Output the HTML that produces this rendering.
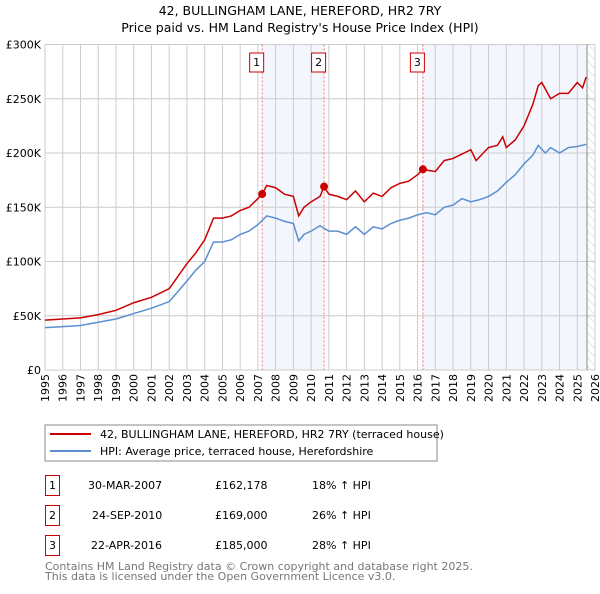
<!DOCTYPE html>
<html><head><meta charset="utf-8"><style>
body{margin:0;background:#fff;font-family:"DejaVu Sans","Liberation Sans",sans-serif;}
svg text{font-family:"DejaVu Sans","Liberation Sans",sans-serif;}
</style></head><body>
<svg id="c" width="600" height="590" xmlns="http://www.w3.org/2000/svg">
<defs><pattern id="hatch" width="6" height="6" patternUnits="userSpaceOnUse" patternTransform="rotate(-45)"><line x1="0" y1="0" x2="0" y2="6" stroke="#ccc" stroke-width="1"/></pattern></defs>
<text x="300" y="15" text-anchor="middle" font-size="12.5">42, BULLINGHAM LANE, HEREFORD, HR2 7RY</text>
<text x="300" y="32" text-anchor="middle" font-size="12.5">Price paid vs. HM Land Registry's House Price Index (HPI)</text>
<g id="plot"></g>
<rect x="45" y="425" width="392" height="36" fill="#fff" stroke="#888"/>
<line x1="50" y1="434" x2="91" y2="434" stroke="#cc0000" stroke-width="2"/>
<text x="100" y="438" font-size="11">42, BULLINGHAM LANE, HEREFORD, HR2 7RY (terraced house)</text>
<line x1="50" y1="451" x2="91" y2="451" stroke="#5b8fd0" stroke-width="2"/>
<text x="100" y="455" font-size="11">HPI: Average price, terraced house, Herefordshire</text>
<g font-size="11">
<rect x="45.5" y="475.5" width="14" height="20" fill="#fff" stroke="#cc0000"/><text x="52.5" y="489" text-anchor="middle">1</text>
<text x="88" y="489">30-MAR-2007</text><text x="215" y="489">£162,178</text><text x="312" y="489">18% ↑ HPI</text>
<rect x="45.5" y="505.5" width="14" height="20" fill="#fff" stroke="#cc0000"/><text x="52.5" y="519" text-anchor="middle">2</text>
<text x="92" y="519">24-SEP-2010</text><text x="215" y="519">£169,000</text><text x="312" y="519">26% ↑ HPI</text>
<rect x="45.5" y="535.5" width="14" height="20" fill="#fff" stroke="#cc0000"/><text x="52.5" y="549" text-anchor="middle">3</text>
<text x="91" y="549">22-APR-2016</text><text x="215" y="549">£185,000</text><text x="312" y="549">28% ↑ HPI</text>
</g>
<text x="45" y="570" font-size="11" fill="#777">Contains HM Land Registry data © Crown copyright and database right 2025.</text>
<text x="45" y="580" font-size="11" fill="#777">This data is licensed under the Open Government Licence v3.0.</text>
</svg>
<script>
const redX=[1995,1996,1997,1998,1999,2000,2001,2002,2003,2003.5,2004,2004.5,2005,2005.5,2006,2006.5,2007,2007.24,2007.5,2008,2008.5,2009,2009.3,2009.6,2010,2010.5,2010.73,2011,2011.5,2012,2012.5,2013,2013.5,2014,2014.5,2015,2015.5,2016,2016.3,2016.6,2017,2017.5,2018,2018.5,2019,2019.3,2019.7,2020,2020.5,2020.8,2021,2021.5,2022,2022.5,2022.8,2023,2023.5,2024,2024.5,2025,2025.3,2025.5];
const redV=[46,47,48,51,55,62,67,75,98,108,120,140,140,142,147,150,158,162.2,170,168,162,160,142,150,155,160,169,162,160,157,165,155,163,160,168,172,174,180,185,184,183,193,195,199,203,193,200,205,207,215,205,212,225,245,262,265,250,255,255,265,260,270];
const hpiX=[1995,1996,1997,1998,1999,2000,2001,2002,2003,2003.5,2004,2004.5,2005,2005.5,2006,2006.5,2007,2007.5,2008,2008.5,2009,2009.3,2009.6,2010,2010.5,2011,2011.5,2012,2012.5,2013,2013.5,2014,2014.5,2015,2015.5,2016,2016.5,2017,2017.5,2018,2018.5,2019,2019.5,2020,2020.5,2021,2021.5,2022,2022.5,2022.8,2023.2,2023.5,2024,2024.5,2025,2025.5];
const hpiV=[39,40,41,44,47,52,57,63,82,92,100,118,118,120,125,128,134,142,140,137,135,119,125,128,133,128,128,125,132,125,132,130,135,138,140,143,145,143,150,152,158,155,157,160,165,173,180,190,198,207,200,205,200,205,206,208];
const saleX=[2007.24,2010.73,2016.3];
const saleV=[162.178,169,185];
const saleLabels=["1","2","3"];
const yTicks=[0,50,100,150,200,250,300];
const yTickLabels=["£0","£50K","£100K","£150K","£200K","£250K","£300K"];
const xStart=1995,xEnd=2026,dataEnd=2025.55;
const X0=45,X1=595,Y0=370,Y1=44.5;
const sx=v=>X0+(v-xStart)/(xEnd-xStart)*(X1-X0);
const sy=v=>Y0-v/300*(Y0-Y1);
const NS="http://www.w3.org/2000/svg";
const g=document.getElementById('plot');
function mk(t,a,p){const e=document.createElementNS(NS,t);for(const k in a)e.setAttribute(k,a[k]);(p||g).appendChild(e);return e;}
let e;
e=mk('rect',{x:sx(saleX[0]),y:Y1,width:sx(saleX[1])-sx(saleX[0]),height:Y0-Y1,fill:'#f3f6fd'});


e=mk('rect',{x:sx(saleX[2]),y:Y1,width:sx(dataEnd)-sx(saleX[2]),height:Y0-Y1,fill:'#f3f6fd'});


e=mk('rect',{x:sx(dataEnd),y:Y1,width:X1-sx(dataEnd),height:Y0-Y1,fill:'url(#hatch)'});


for(let yv=xStart;yv<=xEnd;yv++){
 e=mk('line',{x1:sx(yv),x2:sx(yv),y1:Y1,y2:Y0,stroke:'#ccc','stroke-width':1});
 
 
 const tx=sx(yv)+4;
 e=mk('text',{x:0,y:0,transform:`translate(${tx},${Y0+4}) rotate(-90)`,'text-anchor':'end','font-size':11});
 e.textContent=yv;
 
 
}
yTicks.forEach((t,i)=>{
 e=mk('line',{x1:X0,x2:X1,y1:sy(t),y2:sy(t),stroke:'#ccc','stroke-width':1});
 
 
 e=mk('text',{x:X0-4,y:sy(t)+4,'text-anchor':'end','font-size':11});
 e.textContent=yTickLabels[i];
 
 
});
e=mk('line',{x1:sx(dataEnd),x2:sx(dataEnd),y1:Y1,y2:Y0,stroke:'#888','stroke-width':1});


saleX.forEach((s,i)=>{
 e=mk('line',{x1:sx(s),x2:sx(s),y1:Y1,y2:Y0,stroke:'#f07070','stroke-width':1,'stroke-dasharray':'2,2'});
 
 
 e=mk('rect',{x:sx(s)-12.5,y:53,width:14,height:19,fill:'#fff',stroke:'#cc0000'});
 
 
 e=mk('text',{x:sx(s)-5.5,y:66,'text-anchor':'middle','font-size':11});
 e.textContent=saleLabels[i];
 
 
});
e=mk('polyline',{points:hpiX.map((x,i)=>sx(x)+','+sy(hpiV[i])).join(' '),fill:'none',stroke:'#5b8fd0','stroke-width':1.5});


e=mk('polyline',{points:redX.map((x,i)=>sx(x)+','+sy(redV[i])).join(' '),fill:'none',stroke:'#cc0000','stroke-width':1.5});


saleX.forEach((s,i)=>{
 e=mk('circle',{cx:sx(s),cy:sy(saleV[i]),r:4,fill:'#cc0000'});
 
 
});
</script>
</body></html>
